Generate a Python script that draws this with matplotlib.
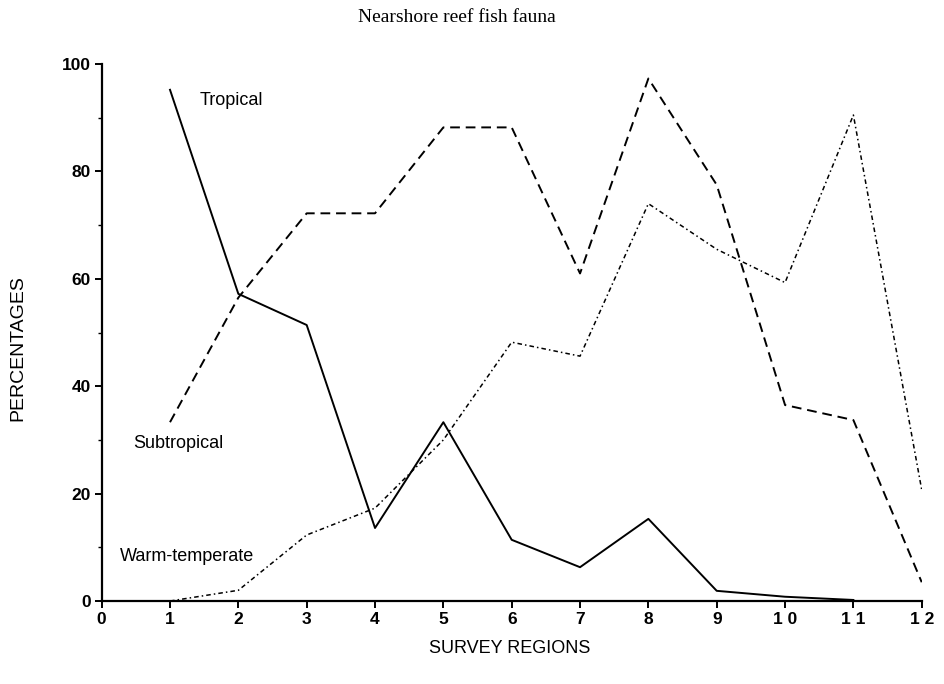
import matplotlib
matplotlib.use("Agg")
import matplotlib.pyplot as plt
from matplotlib.ticker import MultipleLocator

# survey regions and percentage of each fauna group
regions = [1, 2, 3, 4, 5, 6, 7, 8, 9, 10, 11, 12]
tropical = [95.2, 57.2, 51.4, 13.6, 33.3, 11.4, 6.3, 15.3, 1.9, 0.8, 0.2]
subtropical = [33.3, 56.5, 72.2, 72.2, 88.2, 88.2, 61.0, 97.3, 77.5, 36.5, 33.7, 3.5]
warm_temperate = [0.0, 2.0, 12.3, 17.3, 30.0, 48.2, 45.6, 74.0, 65.5, 59.3, 90.5, 20.7]

xticks = list(range(0, 13))
xticklabels = ["0", "1", "2", "3", "4", "5", "6", "7", "8", "9", "1 0", "1 1", "1 2"]
yticks = [0, 20, 40, 60, 80, 100]

fig = plt.figure(figsize=(9.44, 6.84), dpi=100)
ax = fig.add_axes([0.1077, 0.1213, 0.8687, 0.7851])

ax.plot(regions[:len(tropical)], tropical, color="black", lw=1.4, ls="-")
ax.plot(regions, subtropical, color="black", lw=1.4, ls=(0, (5, 3)))
ax.plot(regions, warm_temperate, color="black", lw=1.1, ls=(0, (3, 2, 1, 2)))

ax.set_xlim(0, 12)
ax.set_ylim(0, 100)
ax.set_xticks(xticks)
ax.set_xticklabels(xticklabels)
ax.set_yticks(yticks)
ax.yaxis.set_minor_locator(MultipleLocator(10))

for s in ["top", "right"]:
    ax.spines[s].set_visible(False)
ax.spines["left"].set_linewidth(1.6)
ax.spines["bottom"].set_linewidth(1.6)

ax.tick_params(axis="both", which="major", direction="out", length=5, width=1.4,
               labelsize=12.5, pad=3)
ax.tick_params(axis="y", which="minor", direction="out", length=3, width=1.0)
for lab in ax.get_xticklabels() + ax.get_yticklabels():
    lab.set_fontweight("bold")
    lab.set_family("Liberation Sans")

txt = dict(fontsize=13, family="Liberation Sans", color="black")
ax.text(1.44, 93.3, "Tropical", ha="left", va="center", **txt)
ax.text(0.46, 29.4, "Subtropical", ha="left", va="center", **txt)
ax.text(0.27, 8.2, "Warm-temperate", ha="left", va="center", **txt)

fig.text(0.019, 0.491, "PERCENTAGES", rotation=90, ha="center", va="center",
         fontsize=14, family="Liberation Sans")
fig.text(0.54, 0.052, "SURVEY REGIONS", ha="center", va="center", **txt)
fig.text(0.484, 0.974, "Nearshore reef fish fauna", ha="center", va="center",
         fontsize=14, family="Liberation Serif")

fig.savefig("out.png", dpi=100)
